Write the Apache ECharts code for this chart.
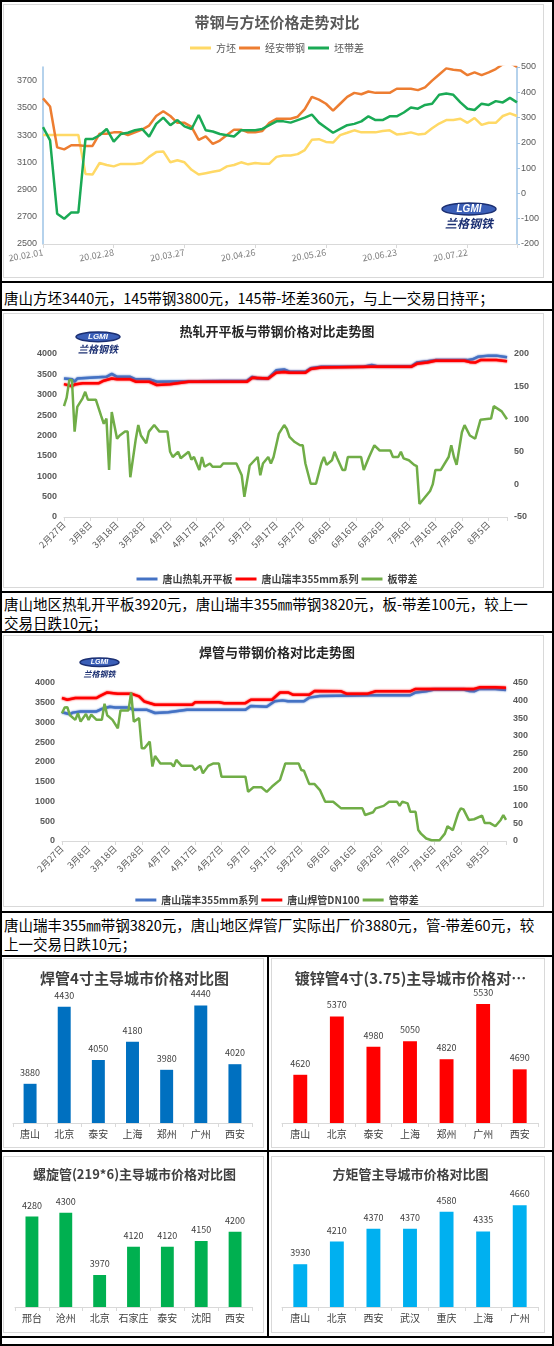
<!DOCTYPE html>
<html>
<head>
<meta charset="utf-8">
<script src="https://cdn.jsdelivr.net/npm/echarts@6/dist/echarts.min.js"></script>
<style>
  body { margin: 0; background: #fff; font-family: "Noto Sans CJK SC", sans-serif; }
  #page { position: relative; width: 554px; height: 1346px; overflow: hidden; }
  .ln { position: absolute; background: #000; }
  .frame { position: absolute; border: 1px solid #d9d9d9; box-sizing: border-box; }
  .chart { position: absolute; }
  .txt { position: absolute; left: 4px; font-size: 14.5px; line-height: 19px; color: #000; white-space: nowrap; }
</style>
</head>
<body>
<div id="page">
  <div class="frame" style="left:3px;top:4px;width:541px;height:274px"></div>
  <div class="frame" style="left:3px;top:313px;width:541px;height:275px"></div>
  <div class="frame" style="left:3px;top:635px;width:541px;height:272px"></div>
  <div class="frame" style="left:3px;top:958px;width:261px;height:190px"></div>
  <div class="frame" style="left:271px;top:958px;width:274px;height:190px"></div>
  <div class="frame" style="left:3px;top:1156px;width:261px;height:177px"></div>
  <div class="frame" style="left:271px;top:1156px;width:274px;height:177px"></div>

  <div id="c1" class="chart" style="left:0;top:0;width:554px;height:281px"></div>
  <div id="c2" class="chart" style="left:0;top:311px;width:554px;height:280px"></div>
  <div id="c3" class="chart" style="left:0;top:633px;width:554px;height:278px"></div>
  <div id="b1" class="chart" style="left:2px;top:957px;width:265px;height:193px"></div>
  <div id="b2" class="chart" style="left:269px;top:957px;width:283px;height:193px"></div>
  <div id="b3" class="chart" style="left:2px;top:1152px;width:265px;height:184px"></div>
  <div id="b4" class="chart" style="left:269px;top:1152px;width:283px;height:184px"></div>

  <div class="txt" style="top:288px">唐山方坯3440元，145带钢3800元，145带-坯差360元，与上一交易日持平；</div>
  <div class="txt" style="top:594px">唐山地区热轧开平板3920元，唐山瑞丰355㎜带钢3820元，板-带差100元，较上一<br>交易日跌10元；</div>
  <div class="txt" style="top:915px">唐山瑞丰355㎜带钢3820元，唐山地区焊管厂实际出厂价3880元，管-带差60元，较<br>上一交易日跌10元；</div>

  <div class="ln" style="left:0;top:0;width:554px;height:2px"></div>
  <div class="ln" style="left:0;top:0;width:2px;height:1346px"></div>
  <div class="ln" style="left:552px;top:0;width:2px;height:1346px"></div>
  <div class="ln" style="left:0;top:1344px;width:554px;height:2px"></div>
  <div class="ln" style="left:0;top:281px;width:554px;height:2px"></div>
  <div class="ln" style="left:0;top:309px;width:554px;height:2px"></div>
  <div class="ln" style="left:0;top:591px;width:554px;height:2px"></div>
  <div class="ln" style="left:0;top:631px;width:554px;height:2px"></div>
  <div class="ln" style="left:0;top:911px;width:554px;height:2px"></div>
  <div class="ln" style="left:0;top:955px;width:554px;height:2px"></div>
  <div class="ln" style="left:0;top:1150px;width:554px;height:2px"></div>
  <div class="ln" style="left:0;top:1336px;width:554px;height:2px"></div>
  <div class="ln" style="left:267px;top:955px;width:2px;height:383px"></div>
</div>

<script>
const FONT = '"Noto Sans CJK SC", sans-serif';

// chart 1: one sample every 2 trading days, starting 20.02.01
const dateTicks1 = ["20.02.01", "20.02.28", "20.03.27", "20.04.26", "20.05.26", "20.06.23", "20.07.22"];
const step1 = 2;
const billet1 = [
  3300, 3300, 3300, 3300, 3300, 3300, 3015, 3010, 3095, 3080,
  3070, 3088, 3088, 3088, 3095, 3140, 3175, 3180, 3100, 3115,
  3100, 3045, 3010, 3020, 3030, 3040, 3070, 3080, 3100, 3085,
  3095, 3090, 3090, 3140, 3150, 3150, 3160, 3190, 3265, 3270,
  3250, 3245, 3300, 3317, 3335, 3320, 3320, 3320, 3330, 3335,
  3305, 3310, 3320, 3305, 3310, 3350, 3385, 3410, 3410, 3420,
  3390, 3425, 3375, 3390, 3390, 3440, 3460, 3440
];
const strip1 = [
  3570, 3510, 3210, 3195, 3225, 3225, 3220, 3220, 3310, 3310,
  3320, 3320, 3300, 3320, 3340, 3370, 3440, 3475, 3440, 3390,
  3390, 3360, 3265, 3290, 3235, 3260, 3300, 3340, 3340, 3320,
  3320, 3330, 3390, 3420, 3420, 3420, 3435, 3490, 3580, 3560,
  3530, 3480, 3530, 3580, 3610, 3600, 3620, 3610, 3610, 3610,
  3640, 3640, 3640, 3630, 3650, 3700, 3745, 3790, 3780, 3775,
  3740, 3760, 3740, 3760, 3785, 3820, 3830, 3800
];
const spread1 = [
  262, 210, -80, -100, -75, -75, 215, 215, 230, 255,
  205, 235, 240, 250, 255, 225, 275, 300, 270, 290,
  265, 255, 310, 250, 245, 235, 230, 225, 250, 250,
  250, 255, 270, 285, 285, 280, 290, 300, 312, 280,
  260, 240, 255, 270, 275, 285, 305, 290, 290, 305,
  305, 320, 340, 335, 350, 355, 390, 395, 390, 360,
  335, 330, 355, 350, 365, 360, 378, 360
];

// charts 2 and 3: [days since 2月27日, value]
const dateTicks2 = ["2月27日", "3月8日", "3月18日", "3月28日", "4月7日", "4月17日", "4月27日", "5月7日", "5月17日",
  "5月27日", "6月6日", "6月16日", "6月26日", "7月6日", "7月16日", "7月26日", "8月5日"];
const lastDay = 167;
const plate = [[0,3400],[3,3380],[4,3320],[5,3400],[16,3440],[18,3510],[20,3440],[25,3440],[27,3380],[32,3380],
  [35,3320],[51,3330],[69,3345],[71,3440],[73,3400],[77,3400],[80,3600],[83,3620],[85,3565],[91,3565],
  [93,3650],[97,3690],[113,3690],[116,3730],[118,3700],[131,3700],[133,3790],[137,3820],[140,3850],[152,3850],
  [154,3870],[156,3930],[160,3960],[163,3960],[167,3920]];
const strip355 = [[0,3260],[3,3210],[4,3250],[7,3280],[13,3280],[15,3345],[18,3400],[20,3380],[25,3380],[27,3320],
  [32,3320],[35,3240],[40,3260],[47,3320],[69,3320],[71,3420],[77,3400],[80,3540],[83,3560],[85,3540],
  [91,3540],[93,3630],[97,3670],[116,3690],[131,3690],[133,3760],[137,3790],[140,3835],[151,3835],[153,3800],
  [155,3790],[157,3850],[163,3850],[167,3820]];
const plateSpread = [[0,120],[1,133],[2,160],[3,160],[4,81],[5,119],[7,132],[8,142],[9,130],[12,130],
  [14,105],[15,93],[16,101],[17,22],[18,111],[20,70],[21,75],[23,81],[24,81],[25,11],
  [27,68],[28,91],[29,75],[31,63],[32,81],[34,91],[36,81],[39,81],[40,50],[41,42],
  [43,50],[44,40],[47,50],[48,38],[49,42],[51,22],[52,42],[53,27],[55,32],[56,27],
  [59,27],[60,32],[65,32],[67,14],[68,-19],[70,29],[73,42],[74,14],[75,32],[77,42],
  [78,32],[79,42],[81,78],[83,91],[84,85],[85,73],[87,65],[89,60],[90,60],[91,32],
  [93,1],[95,1],[97,32],[98,42],[99,30],[101,37],[102,50],[103,40],[105,22],[106,22],
  [107,42],[112,42],[113,22],[115,42],[117,60],[119,52],[123,52],[124,42],[126,42],[127,50],
  [128,40],[130,37],[132,30],[133,28],[134,-30],[136,-20],[138,-10],[139,0],[140,22],[142,22],
  [145,42],[146,60],[147,42],[148,30],[150,80],[151,91],[153,75],[155,70],[157,99],[161,101],
  [162,120],[165,112],[167,100]];
const pipeDN100 = [[0,3620],[2,3575],[5,3620],[13,3620],[14,3660],[17,3760],[21,3730],[26,3730],[29,3660],[31,3530],
  [35,3450],[49,3450],[50,3510],[59,3510],[61,3490],[69,3490],[71,3575],[79,3575],[82,3760],[85,3760],
  [87,3700],[93,3700],[95,3800],[105,3790],[107,3730],[115,3730],[118,3790],[131,3790],[133,3850],[155,3850],
  [157,3890],[163,3890],[167,3880]];
const pipeSpread = [[0,364],[1,380],[2,381],[3,358],[5,345],[6,364],[7,340],[9,362],[10,345],[11,360],
  [13,345],[15,345],[16,391],[17,358],[19,345],[21,321],[22,372],[25,372],[26,423],[27,340],
  [29,350],[30,264],[31,264],[33,283],[34,212],[35,242],[37,221],[41,221],[42,212],[43,231],
  [45,214],[49,214],[50,202],[52,214],[53,193],[55,214],[57,221],[59,221],[60,183],[69,183],
  [70,140],[72,153],[75,153],[77,140],[79,155],[82,174],[84,221],[89,221],[90,202],[91,200],
  [93,162],[95,162],[97,145],[99,112],[102,112],[105,93],[113,93],[114,74],[117,82],[118,93],
  [121,100],[123,112],[126,112],[127,100],[128,112],[130,107],[131,83],[133,83],[134,31],[135,21],
  [137,7],[139,2],[142,2],[144,21],[145,42],[147,31],[148,55],[149,79],[150,93],[151,90],
  [153,60],[155,62],[158,72],[159,51],[161,51],[163,42],[165,60],[166,74],[167,60]];

// bar panels
const weldCities = ["唐山", "北京", "泰安", "上海", "郑州", "广州", "西安"];
const weldPrices = [3880, 4430, 4050, 4180, 3980, 4440, 4020];
const galvCities = ["唐山", "北京", "泰安", "上海", "郑州", "广州", "西安"];
const galvPrices = [4620, 5370, 4980, 5050, 4820, 5530, 4690];
const spiralCities = ["邢台", "沧州", "北京", "石家庄", "泰安", "沈阳", "西安"];
const spiralPrices = [4280, 4300, 3970, 4120, 4120, 4150, 4200];
const rectCities = ["唐山", "北京", "西安", "武汉", "重庆", "上海", "广州"];
const rectPrices = [3930, 4210, 4370, 4370, 4580, 4335, 4660];

function logo(x, y, w) {
  const h = w * 0.22;
  return [
    { type: "ellipse", shape: { cx: x + w / 2, cy: y + h / 2, rx: w / 2, ry: h / 2 },
      style: { fill: "#3b5fb8", stroke: "#1b2f72", lineWidth: 1.5 } },
    { type: "text", x: x + w / 2, y: y + h / 2,
      style: { text: "LGMI", fill: "#fff", font: "italic bold " + Math.round(h * 0.85) + "px Liberation Sans",
        align: "center", verticalAlign: "middle", textAlign: "center", textVerticalAlign: "middle" } },
    { type: "text", x: x + w / 2, y: y + h + 3,
      style: { text: "兰格钢铁", fill: "#1b2f72", font: "italic bold " + Math.round(w / 4.6) + "px " + FONT,
        align: "center", verticalAlign: "top", textAlign: "center", textVerticalAlign: "top" } }
  ];
}

function lineSeries(name, data, color, yIndex, glow) {
  return {
    name: name, type: "line", data: data, yAxisIndex: yIndex, showSymbol: false, symbol: "none",
    lineStyle: { width: 2.5, color: color, shadowColor: glow ? color : "transparent", shadowBlur: glow ? 2 : 0 },
    itemStyle: { color: color }
  };
}

const plain = (v) => String(v);

const c1 = echarts.init(document.getElementById("c1"));
c1.setOption({
  animation: false,
  title: { text: "带钢与方坯价格走势对比", left: "center", top: 10,
    textStyle: { fontSize: 15, fontWeight: "bold", color: "#595959", fontFamily: FONT } },
  legend: { top: 38, left: "center", icon: "rect", itemWidth: 21, itemHeight: 3, itemGap: 3,
    textStyle: { fontSize: 10, color: "#595959", fontFamily: FONT }, data: ["方坯", "经安带钢", "坯带差"] },
  grid: { left: 43, right: 37, top: 67, bottom: 37, outerBoundsMode: "none" },
  xAxis: {
    type: "value", min: 0, max: (billet1.length - 1) * step1, interval: 20,
    axisLine: { onZero: false, lineStyle: { color: "#d9d9d9" } },
    axisTick: { show: true, length: 4, lineStyle: { color: "#d9d9d9" } },
    splitLine: { show: false },
    axisLabel: { rotate: 10, fontSize: 9, color: "#808080", margin: 8, fontFamily: FONT,
      formatter: (v) => dateTicks1[v / 20] || "" }
  },
  yAxis: [
    { type: "value", min: 2500, max: 3800, interval: 100,
      axisLine: { show: true, onZero: false, lineStyle: { color: "#9dc3e6", width: 1.5 } },
      axisTick: { show: false }, splitLine: { show: false },
      axisLabel: { fontSize: 9, color: "#595959", margin: 6, formatter: (v) => ((v - 2500) % 200 === 0 ? String(v) : "") } },
    { type: "value", min: -200, max: 500, interval: 100, position: "right",
      axisLine: { show: true, onZero: false, lineStyle: { color: "#9dc3e6", width: 1.5 } },
      axisTick: { show: true, length: 3, lineStyle: { color: "#9dc3e6" } }, splitLine: { show: false },
      axisLabel: { fontSize: 9, color: "#595959", margin: 4, formatter: plain } }
  ],
  graphic: logo(442, 203, 54),
  series: [
    lineSeries("方坯", billet1.map((v, k) => [k * step1, v]), "#ffd966", 0),
    lineSeries("经安带钢", strip1.map((v, k) => [k * step1, v]), "#ed7d31", 0),
    lineSeries("坯带差", spread1.map((v, k) => [k * step1, v]), "#1aaa55", 1)
  ]
});

function dualOption(title, names, series, rightMin, rightMax, grid, legendTop, titleTop, logoEls) {
  return {
    animation: false,
    title: { text: title, left: "center", top: titleTop,
      textStyle: { fontSize: 13, fontWeight: "bold", color: "#262626", fontFamily: FONT } },
    legend: { top: legendTop, left: "center", icon: "rect", itemWidth: 21, itemHeight: 3, itemGap: 3,
      textStyle: { fontSize: 10, fontWeight: "bold", color: "#404040", fontFamily: FONT }, data: names },
    grid: Object.assign({ outerBoundsMode: "none" }, grid),
    xAxis: {
      type: "value", min: 0, max: lastDay, interval: 10,
      axisLine: { onZero: false, lineStyle: { color: "#d9d9d9" } },
      axisTick: { show: true, length: 4, lineStyle: { color: "#d9d9d9" } },
      splitLine: { show: false },
      axisLabel: { rotate: 45, fontSize: 9, color: "#595959", margin: 6, fontFamily: FONT,
        formatter: (v) => dateTicks2[v / 10] || "" }
    },
    yAxis: [
      { type: "value", min: 0, max: 4000, interval: 500, axisLine: { show: false, onZero: false },
        axisTick: { show: false }, splitLine: { show: false },
        axisLabel: { fontSize: 9, fontWeight: "bold", color: "#595959", margin: 7, formatter: plain } },
      { type: "value", min: rightMin, max: rightMax, interval: 50, position: "right",
        axisLine: { show: false, onZero: false }, axisTick: { show: false }, splitLine: { show: false },
        axisLabel: { fontSize: 9, fontWeight: "bold", color: "#595959", margin: 7, formatter: plain } }
    ],
    graphic: logoEls,
    series: series
  };
}

const c2 = echarts.init(document.getElementById("c2"));
c2.setOption(dualOption("热轧开平板与带钢价格对比走势图",
  ["唐山热轧开平板", "唐山瑞丰355mm系列", "板带差"],
  [
    lineSeries("唐山热轧开平板", plate, "#4472c4", 0, true),
    lineSeries("唐山瑞丰355mm系列", strip355, "#ff0000", 0, true),
    lineSeries("板带差", plateSpread, "#70ad47", 1)
  ],
  -50, 200, { left: 64, right: 47, top: 43, bottom: 74 }, 258, 9, logo(76, 21, 44)));

const c3 = echarts.init(document.getElementById("c3"));
c3.setOption(dualOption("焊管与带钢价格对比走势图",
  ["唐山瑞丰355mm系列", "唐山焊管DN100", "管带差"],
  [
    lineSeries("唐山瑞丰355mm系列", strip355, "#4472c4", 0, true),
    lineSeries("唐山焊管DN100", pipeDN100, "#ff0000", 0, true),
    lineSeries("管带差", pipeSpread, "#70ad47", 1)
  ],
  0, 450, { left: 62, right: 48, top: 50, bottom: 70 }, 257, 8, logo(80, 25, 39)));

function barChart(id, title, titleSize, titleTop, cats, vals, color, min, max, grid) {
  const ch = echarts.init(document.getElementById(id));
  ch.setOption({
    animation: false,
    title: { text: title, left: "center", top: titleTop,
      textStyle: { fontSize: titleSize, fontWeight: "bold", color: "#404040", fontFamily: FONT } },
    grid: Object.assign({ outerBoundsMode: "none" }, grid),
    xAxis: {
      type: "category", data: cats,
      axisLine: { lineStyle: { color: "#d9d9d9" } },
      axisTick: { show: true, length: 4, lineStyle: { color: "#d9d9d9" } },
      axisLabel: { interval: 0, hideOverlap: false, fontSize: 10, color: "#404040", margin: 6, fontFamily: FONT }
    },
    yAxis: { type: "value", min: min, max: max, show: false, splitLine: { show: false } },
    series: [{
      type: "bar", data: vals, barWidth: "38%", itemStyle: { color: color },
      label: { show: true, position: "top", distance: 7, fontSize: 9, color: "#404040", fontFamily: FONT,
        formatter: (p) => String(p.value) }
    }]
  });
}

barChart("b1", "焊管4寸主导城市价格对比图", 15, 9, weldCities, weldPrices, "#0070c0", 3600, 4600,
  { left: 11, right: 15, top: 26, bottom: 27 });
barChart("b2", "镀锌管4寸(3.75)主导城市价格对…", 15, 9, galvCities, galvPrices, "#ff0000", 4000, 5800,
  { left: 13, right: 14, top: 26, bottom: 27 });
barChart("b3", "螺旋管(219*6)主导城市价格对比图", 13, 11, spiralCities, spiralPrices, "#00b050", 3800, 4400,
  { left: 13, right: 15, top: 42, bottom: 29 });
barChart("b4", "方矩管主导城市价格对比图", 13, 11, rectCities, rectPrices, "#00b0f0", 3400, 4800,
  { left: 13, right: 14, top: 42, bottom: 29 });
</script>
</body>
</html>
